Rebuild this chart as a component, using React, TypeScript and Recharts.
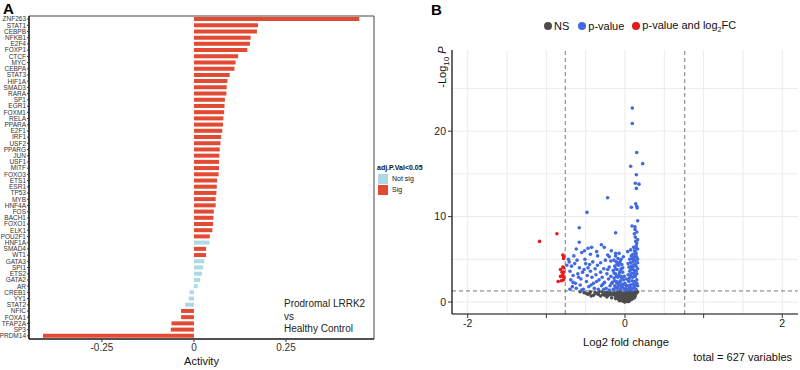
import React from 'react';
import {
  BarChart, Bar, Cell, XAxis, YAxis, ReferenceArea, Legend, Customized,
  ScatterChart, Scatter, CartesianGrid, ReferenceLine,
} from 'recharts';

// panel A: TF activity
const factors = [
  'ZNF263', 'STAT1', 'CEBPB', 'NFKB1', 'E2F4', 'FOXP1', 'CTCF', 'MYC', 'CEBPA', 'STAT3',
  'HIF1A', 'SMAD3', 'RARA', 'SP1', 'EGR1', 'FOXM1', 'RELA', 'PPARA', 'E2F1', 'IRF1',
  'USF2', 'PPARG', 'JUN', 'USF1', 'MITF', 'FOXO3', 'ETS1', 'ESR1', 'TP53', 'MYB',
  'HNF4A', 'FOS', 'BACH1', 'FOXO1', 'ELK1', 'POU2F1', 'HNF1A', 'SMAD4', 'WT1', 'GATA3',
  'SPI1', 'ETS2', 'GATA2', 'AR', 'CREB1', 'YY1', 'STAT2', 'NFIC', 'FOXA1', 'TFAP2A',
  'SP3', 'PRDM14',
];
const activity = [
  0.449, 0.174, 0.171, 0.154, 0.152, 0.145, 0.120, 0.113, 0.110, 0.097,
  0.091, 0.089, 0.088, 0.084, 0.083, 0.082, 0.080, 0.079, 0.077, 0.074,
  0.072, 0.070, 0.069, 0.068, 0.068, 0.067, 0.063, 0.062, 0.061, 0.059,
  0.059, 0.054, 0.053, 0.052, 0.050, 0.043, 0.042, 0.033, 0.033, 0.028,
  0.025, 0.022, 0.017, 0.010, -0.012, -0.014, -0.024, -0.035, -0.035, -0.061,
  -0.063, -0.410,
];
const notSig = ['HNF1A', 'GATA3', 'SPI1', 'ETS2', 'GATA2', 'AR', 'CREB1', 'YY1', 'STAT2'];
const activityTicks = [-0.25, 0, 0.25];

// panel B: volcano points [log2FC, -log10 P]
const nsPoints = [
  [-0.52, 1.1], [-0.47, 0.9], [-0.44, 1.2], [-0.40, 0.8], [-0.36, 1.0], [-0.33, 1.2], [-0.31, 0.7],
  [-0.28, 0.9], [-0.25, 1.1], [-0.23, 0.6], [-0.21, 0.8], [-0.19, 1.2], [-0.17, 0.5], [-0.15, 0.9],
  [-0.14, 1.1], [-0.12, 0.4], [-0.11, 0.7], [-0.10, 1.0], [-0.09, 1.2], [-0.08, 0.3], [-0.07, 0.6],
  [-0.06, 0.9], [-0.05, 1.1], [-0.05, 0.2], [-0.04, 0.5], [-0.03, 0.8], [-0.02, 1.0], [-0.02, 0.1],
  [-0.01, 0.4], [0.0, 0.0], [0.0, 0.7], [0.01, 0.3], [0.01, 1.1], [0.02, 0.1], [0.02, 0.6],
  [0.03, 0.9], [0.03, 0.2], [0.04, 0.5], [0.04, 1.2], [0.05, 0.8], [0.05, 0.3], [0.06, 1.0],
  [0.06, 0.6], [0.07, 0.4], [0.07, 1.2], [0.08, 0.8], [0.09, 0.5], [0.09, 1.0], [0.10, 0.7],
  [0.11, 1.1], [0.12, 0.9], [0.13, 1.2], [0.14, 1.0], [-0.13, 0.8], [-0.09, 0.5], [-0.04, 0.3],
  [0.0, 0.5], [0.03, 0.4], [-0.16, 1.0], [-0.08, 0.9], [0.08, 1.1], [-0.01, 0.9], [0.02, 1.2],
  [-0.06, 1.2], [0.06, 0.2], [-0.03, 0.15], [0.04, 0.05], [-0.20, 1.0], [-0.26, 0.8], [-0.29, 1.2],
  [-0.38, 1.1], [-0.43, 0.7], [-0.57, 1.2], [-0.49, 1.0],
  [0.01, 0.15], [-0.01, 0.05], [0.02, 0.35], [-0.02, 0.3], [0.03, 0.55], [-0.03, 0.6], [0.05, 0.1],
  [-0.06, 0.4], [0.07, 0.7], [0.08, 0.3], [-0.08, 0.7], [0.10, 0.4], [-0.10, 0.6], [0.11, 0.8],
  [0.12, 0.5], [-0.12, 1.0], [0.13, 0.7], [0.15, 1.1], [0.16, 1.2], [-0.18, 0.9], [-0.22, 1.1],
  [-0.24, 0.9], [-0.34, 0.9], [-0.45, 1.0], [0.0, 0.25], [0.01, 0.8], [-0.04, 0.9], [0.04, 0.7],
  [0.06, 0.45], [-0.07, 0.15],
];
const pPoints = [
  [0.093, 22.7], [0.093, 20.9], [0.149, 17.5], [0.225, 16.2], [0.072, 15.9], [0.144, 14.9],
  [0.131, 13.9], [0.178, 13.8], [0.144, 13.3], [-0.221, 12.2], [0.136, 11.5], [0.149, 11.2],
  [0.081, 11.1], [0.155, 11.0], [-0.484, 10.5], [0.161, 9.5], [0.089, 8.9], [0.127, 8.8],
  [0.127, 8.5], [0.119, 8.0], [-0.119, 8.1], [-0.582, 8.7], [-0.582, 7.0], [0.136, 7.1],
  [0.144, 6.6], [-0.425, 6.4], [-0.264, 6.4], [-0.514, 6.0], [-0.174, 6.0], [-0.119, 5.7],
  [-0.076, 5.7], [-0.348, 5.4], [-0.2, 5.3], [0.034, 5.9], [0.072, 6.1], [0.14, 5.7],
  [0.05, 1.5], [0.08, 1.6], [0.11, 1.7], [0.14, 1.5], [0.04, 1.9], [0.07, 2.0], [0.10, 2.1],
  [0.13, 2.0], [0.16, 1.9], [0.05, 2.4], [0.09, 2.5], [0.12, 2.4], [0.15, 2.6], [0.06, 2.8],
  [0.10, 2.9], [0.13, 3.0], [0.04, 3.2], [0.08, 3.3], [0.11, 3.4], [0.15, 3.3], [0.06, 3.6],
  [0.09, 3.8], [0.12, 3.7], [0.16, 3.9], [0.05, 4.1], [0.08, 4.2], [0.11, 4.3], [0.14, 4.2],
  [0.07, 4.6], [0.10, 4.7], [0.13, 4.8], [0.16, 4.6], [0.06, 5.0], [0.09, 5.1], [0.12, 5.3],
  [0.15, 5.2], [0.10, 5.6], [0.13, 5.9], [0.16, 6.2], [0.11, 6.4], [0.15, 6.9],
  [0.03, 1.4], [0.06, 1.7], [0.09, 1.4], [0.12, 1.8], [0.15, 2.2], [0.04, 2.6], [0.07, 3.0],
  [0.12, 3.1], [0.14, 3.6], [0.07, 3.9], [0.10, 4.0], [0.04, 4.5], [0.13, 4.4], [0.08, 5.4],
  [0.14, 5.5], [0.11, 5.0], [0.16, 5.0], [0.12, 6.0], [0.14, 6.3], [0.13, 7.6], [0.15, 8.2],
  [0.16, 7.3],
  [-0.15, 1.5], [-0.10, 1.6], [-0.06, 1.5], [-0.03, 1.7], [-0.13, 1.9], [-0.08, 2.0], [-0.04, 2.1],
  [-0.16, 2.3], [-0.11, 2.4], [-0.06, 2.5], [-0.02, 2.6], [-0.14, 2.8], [-0.09, 2.9], [-0.05, 3.0],
  [-0.12, 3.3], [-0.07, 3.4], [-0.03, 3.5], [-0.15, 3.7], [-0.10, 3.8], [-0.05, 3.9], [-0.13, 4.2],
  [-0.08, 4.3], [-0.04, 4.4], [-0.11, 4.7], [-0.06, 4.8], [-0.09, 5.1], [-0.02, 5.3],
  [-0.14, 1.4], [-0.12, 1.7], [-0.09, 1.8], [-0.05, 1.8], [-0.02, 2.0], [-0.10, 2.2], [-0.07, 2.3],
  [-0.13, 2.5], [-0.04, 2.8], [-0.11, 3.0], [-0.08, 3.1], [-0.14, 3.4], [-0.06, 3.6], [-0.12, 3.9],
  [-0.03, 4.0], [-0.10, 4.4], [-0.07, 4.6], [-0.14, 4.9], [-0.05, 5.0], [-0.12, 5.4],
  [-0.01, 1.4], [0.01, 1.6], [0.02, 1.9], [0.0, 2.2], [0.02, 2.7], [-0.01, 3.0],
  [-0.72, 5.0], [-0.71, 4.7], [-0.68, 4.2], [-0.70, 3.6], [-0.66, 3.1], [-0.69, 2.6], [-0.63, 2.2],
  [-0.67, 1.8], [-0.62, 1.6], [-0.61, 4.9], [-0.58, 4.0], [-0.60, 3.3], [-0.56, 2.7], [-0.57, 2.0],
  [-0.53, 1.5], [-0.51, 5.0], [-0.50, 4.5], [-0.52, 3.8], [-0.48, 3.1], [-0.49, 2.4], [-0.46, 1.8],
  [-0.45, 4.4], [-0.44, 3.6], [-0.42, 2.9], [-0.41, 4.7], [-0.40, 2.2], [-0.39, 1.6], [-0.38, 3.9],
  [-0.37, 3.2], [-0.35, 4.3], [-0.33, 2.6], [-0.31, 4.6], [-0.31, 3.5], [-0.30, 1.9], [-0.29, 2.9],
  [-0.27, 3.9], [-0.26, 2.3], [-0.25, 4.9], [-0.24, 1.6], [-0.23, 3.3], [-0.21, 2.7], [-0.20, 4.1],
  [-0.19, 1.9], [-0.18, 4.8], [-0.18, 3.0], [-0.17, 2.2], [-0.65, 5.4], [-0.55, 5.8], [-0.44, 5.6],
  [-0.36, 5.9], [-0.22, 5.5], [-0.30, 6.7], [-0.47, 6.3], [-0.62, 6.2],
  [-0.64, 4.5], [-0.59, 2.9], [-0.54, 3.5], [-0.47, 4.0], [-0.43, 2.0], [-0.36, 2.4], [-0.28, 2.1],
  [-0.22, 3.8], [-0.34, 1.5], [-0.27, 1.5], [-0.20, 1.4], [-0.55, 1.4], [-0.70, 1.5], [-0.66, 2.3],
  [-0.74, 4.3],
];
const fcPoints = [
  [-1.087, 7.1], [-0.866, 8.0], [-0.79, 5.5], [-0.78, 5.3], [-0.78, 5.1], [-0.79, 4.1],
  [-0.78, 4.0], [-0.82, 3.8], [-0.80, 3.5], [-0.78, 3.5], [-0.79, 3.2], [-0.82, 3.0],
  [-0.78, 2.9], [-0.85, 2.4], [-0.81, 2.5], [-0.78, 2.6],
];
const fcCut = 0.76;
const pCut = 1.3;

const FONT = '"Liberation Sans", Arial, Helvetica, sans-serif';
const RED_BAR = '#E24A33';
const BLUE_BAR = '#ADD8E6';

const barData = factors.map((tf, i) => ({ tf, activity: activity[i], sig: !notSig.includes(tf) }));
const toXY = (pts) => pts.map(([x, y]) => ({ x, y }));

const dot = (color) => (props) => <circle cx={props.cx} cy={props.cy} r={1.8} fill={color} />;

const BarLegend = () => (
  <div style={{ fontFamily: FONT, fontSize: 7, color: '#111' }}>
    <div style={{ fontWeight: 'bold', marginBottom: 2 }}>adj.P.Val&lt;0.05</div>
    {[['Not sig', BLUE_BAR], ['Sig', RED_BAR]].map(([name, c]) => (
      <div key={name} style={{ display: 'flex', alignItems: 'center', height: 11 }}>
        <span style={{ display: 'inline-block', width: 10, height: 10, background: c, marginLeft: 1, marginRight: 4 }} />
        <span>{name}</span>
      </div>
    ))}
  </div>
);

const VolcanoLegend = () => (
  <div style={{ display: 'flex', alignItems: 'center', fontFamily: FONT, fontSize: 11, color: '#111' }}>
    {[['NS', '#4D4D4D', 9], ['p-value', '#4169E1', 8], ['p-value and log', '#E41A1C', 0]].map(([name, c, gap]) => (
      <span key={name} style={{ display: 'flex', alignItems: 'center', marginRight: gap }}>
        <span style={{ display: 'inline-block', width: 8, height: 8, borderRadius: 4, background: c, marginRight: 2 }} />
        <span>{name}{name === 'p-value and log' ? <><sub style={{ fontSize: 7 }}>2</sub>FC</> : null}</span>
      </span>
    ))}
  </div>
);

const AnnotA = () => (
  <g fontFamily={FONT}>
    <text x={3} y={14} fontSize={15} fontWeight="bold" fill="#000">A</text>
    <text x={284} y={307} fontSize={10} fill="#222">Prodromal LRRK2</text>
    <text x={284} y={320} fontSize={10} fill="#222">vs</text>
    <text x={284} y={332} fontSize={10} fill="#222">Healthy Control</text>
  </g>
);

const AnnotB = () => (
  <g fontFamily={FONT}>
    <text x={31} y={15} fontSize={15} fontWeight="bold" fill="#000">B</text>
    <text transform="rotate(-90)" x={-67} y={46} fontSize={11} textAnchor="middle" fill="#111">
      -Log<tspan dy={3} fontSize={8}>10</tspan><tspan dy={-3}> </tspan><tspan fontStyle="italic">P</tspan>
    </text>
    <text x={226} y={345.5} fontSize={11.2} textAnchor="middle" fill="#111">Log2 fold change</text>
    <text x={392} y={361} fontSize={11} textAnchor="end" fill="#111">total = 627 variables</text>
  </g>
);

export default function App() {
  return (
    <div style={{ position: 'absolute', left: 0, top: 0, width: 800, height: 370, background: '#fff', fontFamily: FONT }}>
      <div style={{ position: 'absolute', left: 0, top: 0 }}>
        <BarChart width={440} height={370} data={barData} layout="vertical"
          margin={{ top: 16, right: 66, bottom: 0, left: 0 }} barCategoryGap={1}>
          <XAxis type="number" dataKey="activity" domain={[-0.448, 0.489]} ticks={activityTicks}
            allowDataOverflow height={31} tickSize={3} tickMargin={2}
            tick={{ fontSize: 10, fill: '#333', fontFamily: FONT }}
            axisLine={{ stroke: '#000', strokeWidth: 1.2 }} tickLine={{ stroke: '#333' }}
            label={{ value: 'Activity', position: 'insideBottom', offset: 5, fontSize: 11, fill: '#111', fontFamily: FONT }} />
          <YAxis type="category" dataKey="tf" width={29} interval={0} tickSize={2} tickMargin={1}
            tick={{ fontSize: 6.5, fill: '#333', fontFamily: FONT }}
            axisLine={{ stroke: '#000', strokeWidth: 1.2 }} tickLine={{ stroke: '#333' }} />
          <ReferenceArea x1={-0.448} x2={0.489} fill="none" stroke="#444" strokeWidth={1} ifOverflow="visible" />
          <Bar dataKey="activity" isAnimationActive={false}>
            {barData.map((d) => <Cell key={d.tf} fill={d.sig ? RED_BAR : BLUE_BAR} />)}
          </Bar>
          <Legend layout="horizontal" verticalAlign="middle" align="center" content={BarLegend}
            wrapperStyle={{ left: 377, top: 164, width: 63, height: 40 }} />
          <Customized component={AnnotA} />
        </BarChart>
      </div>
      <div style={{ position: 'absolute', left: 400, top: 0 }}>
        <ScatterChart width={400} height={370} margin={{ top: 50, right: 2, bottom: 0, left: 0 }}>
          <CartesianGrid stroke="#EBEBEB" strokeWidth={1}
            verticalValues={[-2, -1.5, -1, -0.5, 0, 0.5, 1, 1.5, 2]}
            horizontalValues={[0, 5, 10, 15, 20, 25]} />
          <XAxis type="number" dataKey="x" domain={[-2.2, 2.2]} ticks={[-2, -1, 0, 1, 2]}
            allowDataOverflow height={56} tickSize={4} tickMargin={2}
            tickFormatter={(v) => (v % 2 === 0 ? String(v) : '')}
            tick={{ fontSize: 10.5, fill: '#222', fontFamily: FONT }}
            axisLine={{ stroke: '#000', strokeWidth: 1.2 }} tickLine={{ stroke: '#333' }} />
          <YAxis type="number" dataKey="y" domain={[-1.4, 29.5]} ticks={[0, 10, 20]}
            allowDataOverflow width={52} tickSize={4} tickMargin={2}
            tick={{ fontSize: 10.5, fill: '#222', fontFamily: FONT }}
            axisLine={{ stroke: '#000', strokeWidth: 1.2 }} tickLine={{ stroke: '#333' }} />
          <Scatter data={toXY(nsPoints)} shape={dot('#4D4D4D')} isAnimationActive={false} />
          <Scatter data={toXY(pPoints)} shape={dot('#4169E1')} isAnimationActive={false} />
          <Scatter data={toXY(fcPoints)} shape={dot('#E41A1C')} isAnimationActive={false} />
          <ReferenceLine x={-fcCut} stroke="#555" strokeDasharray="4 3" strokeWidth={0.8} />
          <ReferenceLine x={fcCut} stroke="#555" strokeDasharray="4 3" strokeWidth={0.8} />
          <ReferenceLine y={pCut} stroke="#555" strokeDasharray="4 3" strokeWidth={0.8} />
          <Legend layout="horizontal" verticalAlign="middle" align="center" content={VolcanoLegend}
            wrapperStyle={{ left: 144, top: 19, width: 240, height: 16 }} />
          <Customized component={AnnotB} />
        </ScatterChart>
      </div>
    </div>
  );
}
